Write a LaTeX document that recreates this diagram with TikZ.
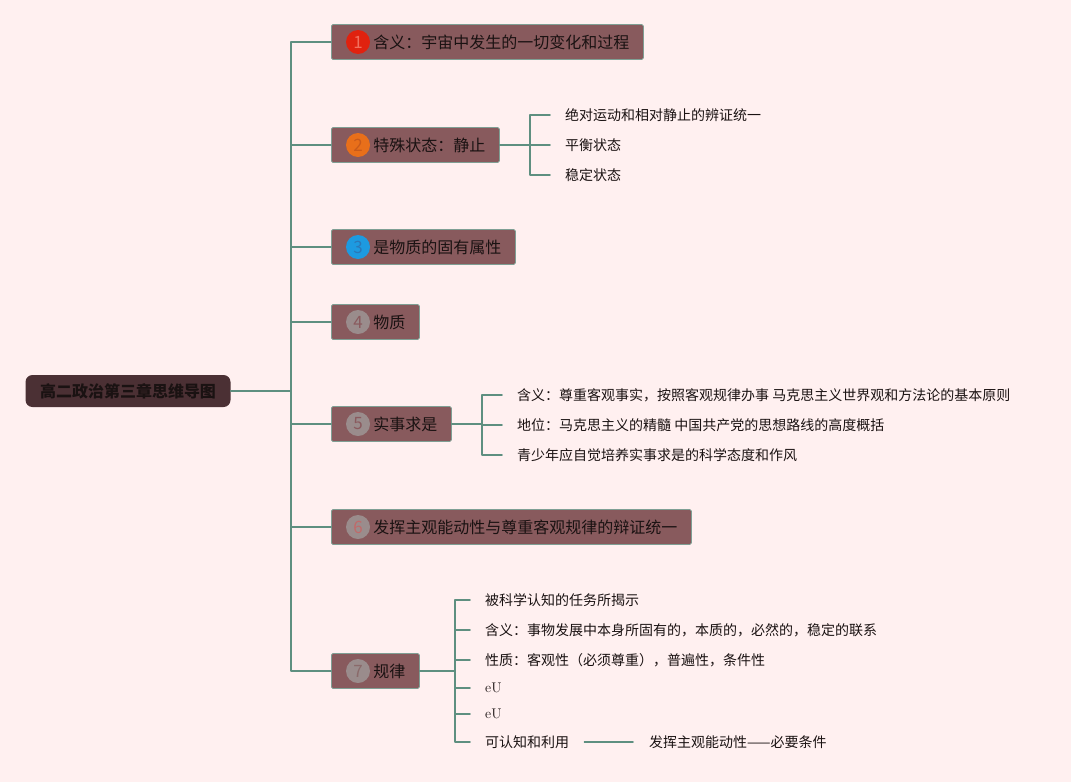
\documentclass[tikz,border=0pt]{standalone}
\usepackage{fontspec}
\newfontfamily\cjk{Noto Sans CJK SC}
\usetikzlibrary{positioning}
\definecolor{mmback}{HTML}{FFF0F0}
\definecolor{mmtopic}{HTML}{885A5D}
\definecolor{mmedge}{HTML}{7F9F94}
\definecolor{mmline}{HTML}{5E8F80}
\definecolor{mmroot}{HTML}{4B3034}
\definecolor{mmtext}{HTML}{1A1212}
\tikzset{
  every picture/.append style={line cap=round,line join=round},
  mm root/.style={fill=mmroot,rounded corners=7pt,minimum width=205pt,minimum height=32pt,
    inner sep=0pt,font=\cjk\bfseries\fontsize{16}{19}\selectfont,text=mmtext},
  mm topic/.style={draw=mmedge,fill=mmtopic,line width=0.8pt,rounded corners=1.5pt,
    minimum height=35pt,inner xsep=14pt,inner ysep=0pt,anchor=west,
    font=\cjk\fontsize{16}{19}\selectfont,text=mmtext},
  mm num/.style={circle,minimum size=24pt,inner sep=0pt,font=\cjk\fontsize{17}{17}\selectfont},
  mm sub/.style={anchor=west,inner xsep=15pt,inner ysep=2pt,font=\cjk\fontsize{14}{17}\selectfont,text=mmtext},
  mm link/.style={draw=mmline,line width=1.6pt}
}

\begin{document}
\begin{tikzpicture}[x=1pt,y=-1pt]
  \useasboundingbox (0,0) rectangle (1071,782);
  \fill[mmback] (0,0) rectangle (1071,782);

  % main topics
  \node[mm root] (root) at (128,391) {高二政治第三章思维导图};
  \node[mm topic] (b1) at (331,42) {\hspace*{28pt}含义：宇宙中发生的一切变化和过程};
  \node[mm topic] (b2) at (331,145) {\hspace*{28pt}特殊状态：静止};
  \node[mm topic] (b3) at (331,247) {\hspace*{28pt}是物质的固有属性};
  \node[mm topic] (b4) at (331,322) {\hspace*{28pt}物质};
  \node[mm topic] (b5) at (331,424) {\hspace*{28pt}实事求是};
  \node[mm topic] (b6) at (331,527) {\hspace*{28pt}发挥主观能动性与尊重客观规律的辩证统一};
  \node[mm topic] (b7) at (331,671) {\hspace*{28pt}规律};

  \foreach \i/\f/\t in {1/E0220F/F2705E,2/E86F1A/C85A1A,3/1D9AE0/2A78B8,4/9A8C8C/8A5A5E,
                        5/9A8C8C/8A5A5E,6/9A8C8C/C06A6A,7/9A8C8C/8A6A6A}{
    \definecolor{numfill}{HTML}{\f}
    \definecolor{numtext}{HTML}{\t}
    \node[mm num,fill=numfill,text=numtext] (n\i) at ([xshift=27pt]b\i.west) {\i};
  }

  % trunk
  \coordinate (tk) at (291,391);
  \draw[mm link] (root.east) -- (tk);
  \draw[mm link] (b1.west) -| (tk) |- (b7.west);
  \foreach \i in {2,...,6}
    \draw[mm link] (b\i.west -| tk) -- (b\i.west);

  % static state
  \node[mm sub] (c21) at (550,115) {绝对运动和相对静止的辨证统一};
  \node[mm sub] (c22) at (550,145) {平衡状态};
  \node[mm sub] (c23) at (550,175) {稳定状态};
  \coordinate (k2) at (530,145);
  \draw[mm link] (b2.east) -- (k2);
  \draw[mm link] (c21.west) -| (k2) |- (c23.west);
  \draw[mm link] (k2) -- (c22.west);

  % seeking truth from facts
  \node[mm sub] (c51) at (502,395) {含义：尊重客观事实，按照客观规律办事 马克思主义世界观和方法论的基本原则};
  \node[mm sub] (c52) at (502,425) {地位：马克思主义的精髓 中国共产党的思想路线的高度概括};
  \node[mm sub] (c53) at (502,455) {青少年应自觉培养实事求是的科学态度和作风};
  \coordinate (k5) at (482,424);
  \draw[mm link] (b5.east) -- (k5);
  \draw[mm link] (c51.west) -| (k5) |- (c53.west);
  \draw[mm link] (c52.west -| k5) -- (c52.west);

  % laws
  \node[mm sub] (c71) at (470,600) {被科学认知的任务所揭示};
  \node[mm sub] (c72) at (470,630) {含义：事物发展中本身所固有的，本质的，必然的，稳定的联系};
  \node[mm sub] (c73) at (470,660) {性质：客观性（必须尊重），普遍性，条件性};
  \node[mm sub,font=\rmfamily\fontsize{14}{17}\selectfont] (c74) at (470,688) {eU};
  \node[mm sub,font=\rmfamily\fontsize{14}{17}\selectfont] (c75) at (470,714) {eU};
  \node[mm sub] (c76) at (470,742) {可认知和利用};
  \node[mm sub,inner xsep=16pt] (c77) at (633,742) {发挥主观能动性——必要条件};
  \coordinate (k7) at (455,671);
  \draw[mm link] (b7.east) -- (k7);
  \draw[mm link] (c71.west) -| (k7) |- (c76.west);
  \foreach \i in {2,...,5}
    \draw[mm link] (c7\i.west -| k7) -- (c7\i.west);
  \draw[mm link] (c76.east) -- (c77.west);
\end{tikzpicture}
\end{document}
